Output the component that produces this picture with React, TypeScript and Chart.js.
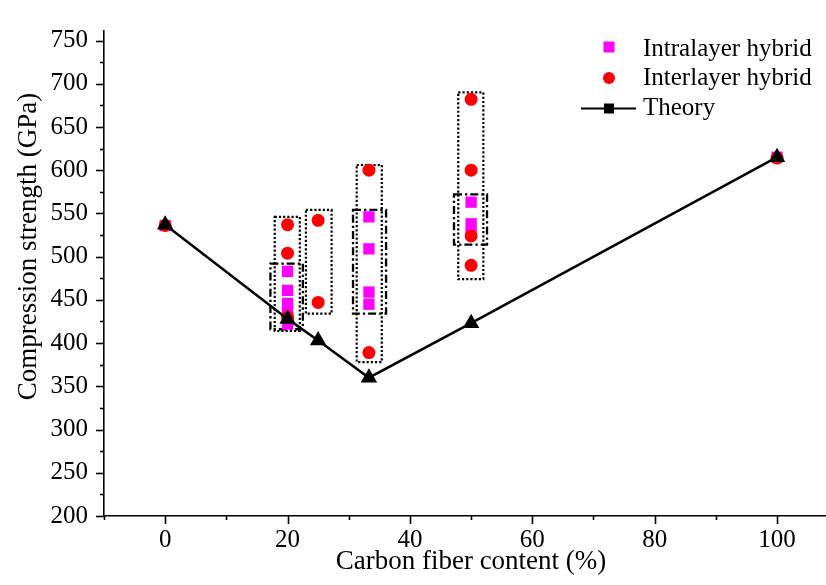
import React, { useEffect, useRef } from 'react';
import { Chart, registerables } from 'chart.js';

Chart.register(...registerables);

// ---- Data ----
const intraX = [0, 20, 20, 20, 20, 20, 33.3, 33.3, 33.3, 33.3, 50, 50, 50, 100];
const intraY = [536, 483, 461, 446, 440, 422, 546, 509, 459, 445, 563, 538, 527, 615];

const interX = [0, 20, 20, 20, 25, 25, 33.3, 33.3, 50, 50, 50, 50, 100];
const interY = [536, 537, 504, 430, 542, 447, 600, 389, 682, 600, 524, 490, 614];

const theoryX = [0, 20, 25, 33.3, 50, 100];
const theoryY = [537, 428, 403, 360, 423, 615];

// grouping boxes (data space)
const dottedBoxX1 = [17.9, 23.0, 31.3, 47.9];
const dottedBoxX2 = [22.0, 27.2, 35.4, 52.0];
const dottedBoxYLow = [414, 434, 378, 474];
const dottedBoxYHigh = [546, 554, 606, 690];

const dashedBoxX1 = [17.2, 30.7, 47.2];
const dashedBoxX2 = [22.5, 36.1, 52.6];
const dashedBoxYLow = [416, 434, 514];
const dashedBoxYHigh = [492, 554, 572];

const xMajorTicks = [0, 20, 40, 60, 80, 100];
const xMinorTicks = [-10, 10, 30, 50, 70, 90];
const yMajorTicks = [200, 250, 300, 350, 400, 450, 500, 550, 600, 650, 700, 750];
const yMinorTicks = [225, 275, 325, 375, 425, 475, 525, 575, 625, 675, 725];

const xTitle = 'Carbon fiber content (%)';
const yTitle = 'Compression strength (GPa)';
const legendLabels = ['Intralayer hybrid', 'Interlayer hybrid', 'Theory'];

const FONT = "'Liberation Serif', 'Times New Roman', serif";
const MAGENTA = '#ff00ff';
const RED = '#ff0000';
const BLACK = '#000000';

const overlayPlugin = {
  id: 'overlay',
  beforeDatasetsDraw(chart: any) {
    const ctx = chart.ctx;
    const xs = chart.scales.x;
    const ys = chart.scales.y;
    ctx.save();
    ctx.strokeStyle = BLACK;
    // dotted boxes
    ctx.lineCap = 'butt';
    ctx.setLineDash([2.2, 2.0]);
    ctx.lineWidth = 2.2;
    for (let i = 0; i < dottedBoxX1.length; i++) {
      const x1 = xs.getPixelForValue(dottedBoxX1[i]);
      const x2 = xs.getPixelForValue(dottedBoxX2[i]);
      const y1 = ys.getPixelForValue(dottedBoxYHigh[i]);
      const y2 = ys.getPixelForValue(dottedBoxYLow[i]);
      ctx.strokeRect(x1, y1, x2 - x1, y2 - y1);
    }
    // dash-dot boxes
    ctx.lineWidth = 2.3;
    ctx.setLineDash([8, 3, 2.3, 3]);
    for (let i = 0; i < dashedBoxX1.length; i++) {
      const x1 = xs.getPixelForValue(dashedBoxX1[i]);
      const x2 = xs.getPixelForValue(dashedBoxX2[i]);
      const y1 = ys.getPixelForValue(dashedBoxYHigh[i]);
      const y2 = ys.getPixelForValue(dashedBoxYLow[i]);
      ctx.strokeRect(x1, y1, x2 - x1, y2 - y1);
    }
    ctx.restore();
  },
  afterDraw(chart: any) {
    const ctx = chart.ctx;
    const xs = chart.scales.x;
    const ys = chart.scales.y;
    const area = chart.chartArea;
    ctx.save();
    ctx.strokeStyle = BLACK;
    ctx.lineWidth = 1.6;
    ctx.setLineDash([]);
    const drawX = (vals: number[], len: number) => {
      vals.forEach((v) => {
        const px = Math.round(xs.getPixelForValue(v)) + 0.5;
        ctx.beginPath();
        ctx.moveTo(px, area.bottom);
        ctx.lineTo(px, area.bottom + len);
        ctx.stroke();
      });
    };
    const drawY = (vals: number[], len: number) => {
      vals.forEach((v) => {
        const py = Math.round(ys.getPixelForValue(v)) + 0.5;
        ctx.beginPath();
        ctx.moveTo(area.left, py);
        ctx.lineTo(area.left - len, py);
        ctx.stroke();
      });
    };
    drawX(xMajorTicks, 8);
    drawX(xMinorTicks, 4);
    drawY(yMajorTicks, 8);
    drawY(yMinorTicks, 4);

    // axis titles
    ctx.fillStyle = BLACK;
    ctx.font = `27px ${FONT}`;
    ctx.textAlign = 'center';
    ctx.textBaseline = 'alphabetic';
    ctx.fillText(xTitle, 471, 569);
    ctx.save();
    ctx.translate(36, 246.5);
    ctx.rotate(-Math.PI / 2);
    ctx.fillText(yTitle, 0, 0);
    ctx.restore();

    // legend
    ctx.font = `25px ${FONT}`;
    ctx.textAlign = 'left';
    const textX = 643;
    const baselines = [56, 84.5, 114.5];
    const markerY = [47, 78, 108.5];
    ctx.fillStyle = MAGENTA;
    ctx.fillRect(609 - 5.5, markerY[0] - 5.5, 11, 11);
    ctx.fillStyle = RED;
    ctx.beginPath();
    ctx.arc(609, markerY[1], 6, 0, Math.PI * 2);
    ctx.fill();
    ctx.strokeStyle = BLACK;
    ctx.lineWidth = 2;
    ctx.beginPath();
    ctx.moveTo(581, markerY[2]);
    ctx.lineTo(636, markerY[2]);
    ctx.stroke();
    ctx.fillStyle = BLACK;
    ctx.fillRect(609 - 5, markerY[2] - 5, 10, 10);
    legendLabels.forEach((t, i) => {
      ctx.fillText(t, textX, baselines[i]);
    });
    ctx.restore();
  },
};

export default function App() {
  const ref = useRef<HTMLCanvasElement>(null);
  useEffect(() => {
    const canvas = ref.current;
    if (!canvas) return;
    const toPts = (xs: number[], ys: number[]) => xs.map((x, i) => ({ x, y: ys[i] }));
    const chart = new Chart(canvas, {
      type: 'scatter',
      data: {
        datasets: [
          {
            label: legendLabels[2],
            data: toPts(theoryX, theoryY),
            showLine: true,
            borderColor: BLACK,
            borderWidth: 2.5,
            tension: 0,
            pointStyle: 'triangle',
            pointRadius: 9.5,
            pointBackgroundColor: BLACK,
            pointBorderColor: BLACK,
            pointBorderWidth: 0,
            order: 0,
          } as any,
          {
            label: legendLabels[1],
            data: toPts(interX, interY),
            pointStyle: 'circle',
            pointRadius: 6.5,
            pointBackgroundColor: RED,
            pointBorderColor: RED,
            pointBorderWidth: 0,
            order: 1,
          } as any,
          {
            label: legendLabels[0],
            data: toPts(intraX, intraY),
            pointStyle: 'rect',
            pointRadius: 8,
            pointBackgroundColor: MAGENTA,
            pointBorderColor: MAGENTA,
            pointBorderWidth: 0,
            order: 2,
          } as any,
        ],
      },
      options: {
        responsive: false,
        animation: false,
        devicePixelRatio: 1,
        layout: { padding: { top: 14, left: 0, right: 0, bottom: 0 }, autoPadding: false },
        plugins: {
          legend: { display: false },
          tooltip: { enabled: false },
        },
        scales: {
          x: {
            type: 'linear',
            min: -10,
            max: 108,
            afterBuildTicks: (s: any) => {
              s.ticks = xMajorTicks.map((v) => ({ value: v }));
            },
            afterFit: (s: any) => {
              s.height = 69;
            },
            grid: { display: false, drawTicks: false },
            border: { display: true, color: BLACK, width: 1.6 },
            ticks: {
              color: BLACK,
              font: { family: FONT, size: 25 },
              padding: 9,
              maxRotation: 0,
              autoSkip: false,
            },
          },
          y: {
            type: 'linear',
            min: 200,
            max: 761,
            afterBuildTicks: (s: any) => {
              s.ticks = yMajorTicks.map((v) => ({ value: v }));
            },
            afterFit: (s: any) => {
              s.width = 104;
            },
            grid: { display: false, drawTicks: false },
            border: { display: true, color: BLACK, width: 1.6 },
            ticks: {
              color: BLACK,
              font: { family: FONT, size: 25 },
              padding: 16,
              autoSkip: false,
            },
          },
        },
      } as any,
      plugins: [overlayPlugin],
    });
    return () => chart.destroy();
  }, []);
  return (
    <div style={{ position: 'absolute', left: 0, top: 0, width: 826, height: 585, background: '#fff' }}>
      <canvas ref={ref} width={826} height={585} style={{ display: 'block' }} />
    </div>
  );
}
